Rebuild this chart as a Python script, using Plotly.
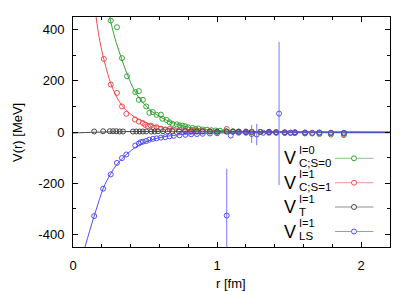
import plotly.graph_objects as go

# ---------------- data ----------------
# V_C;S=0 (I=0) lattice points
g_r = [0.262, 0.305, 0.340, 0.375, 0.432, 0.457, 0.457, 0.485, 0.508, 0.530, 0.554, 0.580, 0.610, 0.620,
       0.650, 0.670, 0.690, 0.720, 0.740, 0.760, 0.780, 0.800, 0.830, 0.850, 0.870, 0.900, 0.930, 0.960,
       0.990, 1.020, 1.060, 1.110, 1.150, 1.200, 1.240, 1.300, 1.360, 1.410, 1.470, 1.510, 1.540, 1.610,
       1.660, 1.710, 1.790, 1.880]
g_v = [436, 410, 289, 218, 156, 160, 126, 126, 100, 75, 78, 67, 68, 52,
       47, 38, 32, 30, 26, 25, 22, 18, 16, 12, 14, 10, 9, 7,
       6, 5, 4, 3, 2, 2, 1, 0, 0, -2, -3, -4, -4, -6,
       -6, -8, -10, -12]
# V_C;S=1 (I=1)
r_r = [0.214, 0.262, 0.305, 0.340, 0.370, 0.430, 0.457, 0.485, 0.500, 0.520, 0.540, 0.560, 0.580, 0.610,
       0.640, 0.670, 0.700, 0.740, 0.780, 0.820, 0.860, 0.900, 0.950, 1.000, 1.067, 1.110, 1.150, 1.200,
       1.240, 1.300, 1.360, 1.410, 1.470, 1.510, 1.540, 1.610, 1.660, 1.710, 1.790, 1.880]
r_v = [286, 186, 153, 100, 71, 49, 41, 35, 28, 22, 25, 16, 19, 13,
       10, 12, 9, 8, 7, 6, 5, 4, 3, 2, 12, 2, 1, 1,
       0, 0, 0, -1, -2, -2, -2, -3, -4, -4, -6, -8]
# V_T (I=1)
k_r = [0.147, 0.209, 0.255, 0.278, 0.301, 0.324, 0.347, 0.416, 0.439, 0.462, 0.485, 0.508, 0.543, 0.566,
       0.590, 0.624, 0.658, 0.690, 0.735, 0.778, 0.820, 0.860, 0.900, 0.950, 1.000, 1.067, 1.110, 1.150,
       1.200, 1.240, 1.300, 1.360, 1.410, 1.470, 1.540, 1.610, 1.710, 1.790, 1.880]
k_v = [2, 3, 3, 3, 3, 2, 2, 2, 2, 2, 2, 2, 2, 2,
       3, 3, 3, 3, 3, 3, 2, 2, 2, 2, 1, 1, 1, 1,
       0, 0, 0, 0, -1, -1, -1, -2, -2, -3, -4]
# V_LS (I=1)
b_r = [0.147, 0.209, 0.262, 0.305, 0.340, 0.370, 0.432, 0.457, 0.470, 0.485, 0.508, 0.530, 0.554, 0.580,
       0.610, 0.640, 0.670, 0.700, 0.740, 0.780, 0.820, 0.860, 0.900, 0.950, 1.000, 1.067, 1.095, 1.150,
       1.200, 1.240, 1.275, 1.320, 1.360, 1.410, 1.430, 1.470, 1.510, 1.540, 1.610, 1.660, 1.710, 1.790,
       1.880]
b_v = [-329, -222, -166, -121, -102, -88, -53, -45, -40, -38, -35, -30, -27, -25,
       -22, -20, -17, -15, -13, -11, -9, -8, -7, -6, -5, -327, -14, -3,
       -3, -8, -10, -3, -3, -3, 72, -3, -3, -3, -3, -3, -3, -3,
       -3]
b_err = [0, 0, 0, 0, 0, 0, 0, 0, 0, 0, 0, 0, 0, 0,
         0, 0, 0, 0, 0, 0, 0, 0, 0, 0, 0, 183, 0, 0,
         0, 35, 42, 0, 0, 0, 280, 0, 0, 0, 0, 0, 0, 0,
         0]

# fit curves
gf_r = [0.255, 0.271, 0.300, 0.336, 0.375, 0.428, 0.470, 0.500, 0.550, 0.600, 0.650, 0.700, 0.800, 0.900,
        1.000, 1.200, 1.500, 2.200]
gf_v = [450, 410, 350, 289, 228, 160, 125, 106, 80, 61, 46, 34, 19, 11, 6, 2, 0, 0]
rf_r = [0.160, 0.180, 0.200, 0.214, 0.240, 0.262, 0.300, 0.340, 0.400, 0.450, 0.500, 0.600, 0.700, 0.800,
        1.000, 1.300, 2.200]
rf_v = [450, 375, 318, 284, 230, 190, 140, 104, 70, 51, 38, 21, 12, 7, 2, 0, 0]
kf_r = [0.0, 0.15, 0.30, 0.60, 1.00, 1.50, 2.20]
kf_v = [-4, -1, 1, 2, 1, 0, -2]
bf_r = [0.083, 0.115, 0.147, 0.178, 0.209, 0.235, 0.262, 0.300, 0.340, 0.400, 0.450, 0.500, 0.600, 0.700,
        0.800, 1.000, 1.300, 2.200]
bf_v = [-450, -388, -329, -273, -222, -190, -163, -130, -104, -74, -54, -40, -22, -13, -8, -4, -3, -3]

x_ticks = [0, 1, 2]
y_ticks = [-400, -200, 0, 200, 400]
sup_labels = ["I=0", "I=1", "I=1", "I=1"]
sub_labels = ["C;S=0", "C;S=1", "T", "LS"]

# ---------------- styling ----------------
C_G = "rgb(50,165,50)"
C_R = "rgb(240,75,75)"
C_K = "rgb(70,70,70)"
C_B = "rgb(80,80,245)"
FONT = "Liberation Sans, Arial, sans-serif"

W, H = 415, 291
ML, MR, MT, MB = 73, 25, 17, 44
PW, PH = W - ML - MR, H - MT - MB


def px(x):
    return (x - ML) / PW


def py(y):
    return (MT + PH - y) / PH


fig = go.Figure()

for fr, fv, col in [(gf_r, gf_v, C_G), (rf_r, rf_v, C_R), (kf_r, kf_v, C_K), (bf_r, bf_v, C_B)]:
    fig.add_trace(go.Scatter(x=fr, y=fv, mode="lines", line=dict(color=col, width=1, shape="spline"),
                             showlegend=False, hoverinfo="skip"))

for pr, pv, col, err in [(g_r, g_v, C_G, None), (r_r, r_v, C_R, None), (k_r, k_v, C_K, None),
                         (b_r, b_v, C_B, b_err)]:
    kw = {}
    if err is not None:
        kw["error_y"] = dict(type="data", array=err, visible=True, color="rgb(120,120,255)",
                             thickness=1, width=0)
    fig.add_trace(go.Scatter(x=pr, y=pv, mode="markers",
                             marker=dict(symbol="circle-open", size=5, color=col, line=dict(width=1)),
                             showlegend=False, **kw))

# manual legend (text on left, sample on right, as in the reference)
row_y = [158.3, 182.7, 207.0, 231.5]
cols = [C_G, C_R, C_K, C_B]
shapes = []
annotations = []
for yrow, col, sup, sub in zip(row_y, cols, sup_labels, sub_labels):
    shapes.append(dict(type="line", xref="paper", yref="paper", x0=px(335), x1=px(373.5),
                       y0=py(yrow), y1=py(yrow), line=dict(color=col, width=1), opacity=0.6))
    shapes.append(dict(type="circle", xref="paper", yref="paper", x0=px(351.5), x1=px(356.5),
                       y0=py(yrow + 2.5), y1=py(yrow - 2.5), line=dict(color=col, width=1),
                       fillcolor="white"))
    annotations.append(dict(text="V", xref="paper", yref="paper", x=px(297.5), y=py(yrow),
                            xanchor="right", yanchor="middle", showarrow=False,
                            font=dict(size=18, color="black", family=FONT)))
    annotations.append(dict(text=sup, xref="paper", yref="paper", x=px(296.5), y=py(yrow - 8.5),
                            xanchor="left", yanchor="middle", showarrow=False,
                            font=dict(size=11, color="black", family=FONT)))
    annotations.append(dict(text=sub, xref="paper", yref="paper", x=px(296.5), y=py(yrow + 4.5),
                            xanchor="left", yanchor="middle", showarrow=False,
                            font=dict(size=11.5, color="black", family=FONT)))

annotations.append(dict(text="V(r) [MeV]", xref="paper", yref="paper", x=px(17), y=py(132),
                        textangle=-90, xanchor="center", yanchor="middle", showarrow=False,
                        font=dict(size=13, color="black", family=FONT)))
annotations.append(dict(text="r [fm]", xref="paper", yref="paper", x=px(231), y=py(283),
                        xanchor="center", yanchor="middle", showarrow=False,
                        font=dict(size=13, color="black", family=FONT)))

axis_common = dict(showgrid=False, zeroline=False, showline=True, linecolor="black", linewidth=1,
                   mirror="allticks", ticks="inside", ticklen=5, tickcolor="black", tickwidth=1,
                   tickfont=dict(size=13, color="black", family=FONT))

fig.update_layout(
    width=W, height=H,
    margin=dict(l=ML, r=MR, t=MT, b=MB, pad=0),
    paper_bgcolor="white", plot_bgcolor="white",
    xaxis=dict(range=[0, 2.2], tickvals=x_ticks, ticktext=[str(v) for v in x_ticks],
               minor=dict(dtick=0.2, ticks="inside", ticklen=3, tickcolor="black"),
               ticklabelstandoff=6, **axis_common),
    yaxis=dict(range=[-450, 450], tickvals=y_ticks, ticktext=[str(v) for v in y_ticks],
               minor=dict(dtick=100, ticks="inside", ticklen=3, tickcolor="black"),
               ticklabelstandoff=5, **axis_common),
    shapes=shapes,
    annotations=annotations,
)

fig.write_html("out.html", config={"displayModeBar": False},
               post_script="document.body.style.margin='0';document.body.style.overflow='hidden';")
